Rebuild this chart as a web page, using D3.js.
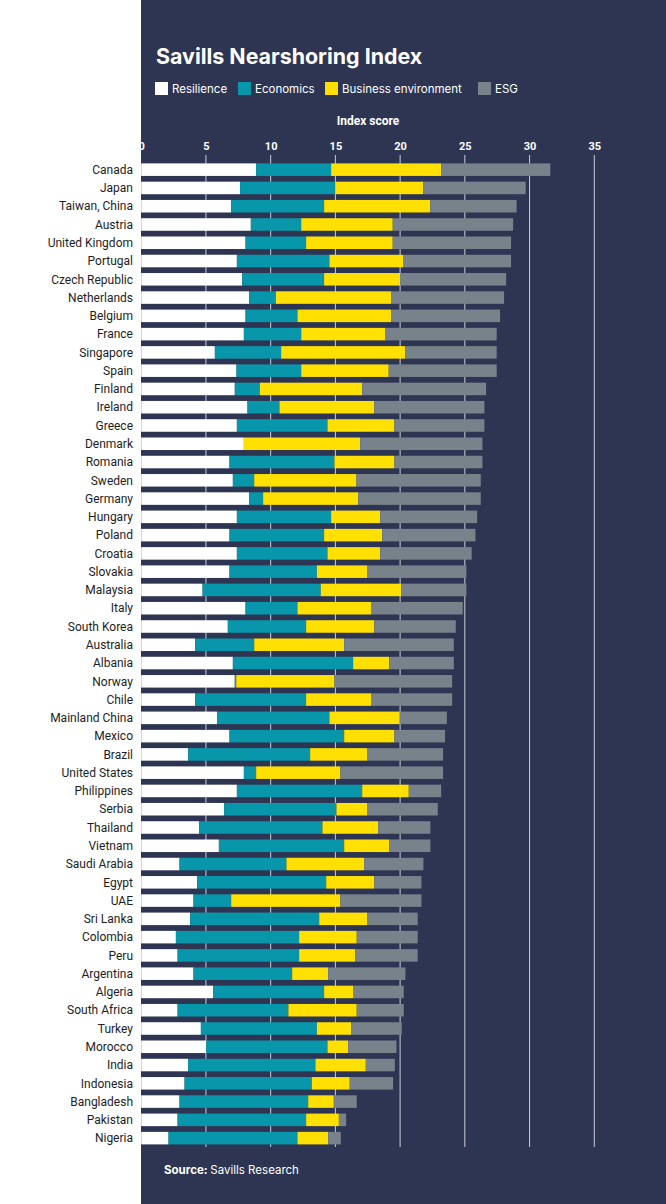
<!DOCTYPE html>
<html>
<head>
<meta charset="utf-8">
<script src="https://cdn.jsdelivr.net/npm/d3@7"></script>
<style>
  body { margin: 0; background: #ffffff; }
  svg { display: block; }
</style>
</head>
<body>
<div id="chart"></div>
<script>
const countries = ["Canada", "Japan", "Taiwan, China", "Austria", "United Kingdom", "Portugal",
  "Czech Republic", "Netherlands", "Belgium", "France", "Singapore", "Spain", "Finland", "Ireland",
  "Greece", "Denmark", "Romania", "Sweden", "Germany", "Hungary", "Poland", "Croatia", "Slovakia",
  "Malaysia", "Italy", "South Korea", "Australia", "Albania", "Norway", "Chile", "Mainland China",
  "Mexico", "Brazil", "United States", "Philippines", "Serbia", "Thailand", "Vietnam", "Saudi Arabia",
  "Egypt", "UAE", "Sri Lanka", "Colombia", "Peru", "Argentina", "Algeria", "South Africa", "Turkey",
  "Morocco", "India", "Indonesia", "Bangladesh", "Pakistan", "Nigeria"];

const resilience = [8.88, 7.64, 6.95, 8.47, 8.06, 7.39, 7.80, 8.34, 8.06, 7.93, 5.69, 7.36, 7.23, 8.21,
  7.39, 7.93, 6.82, 7.08, 8.34, 7.39, 6.82, 7.39, 6.82, 4.74, 8.06, 6.69, 4.17, 7.08, 7.23, 4.17, 5.87,
  6.82, 3.63, 7.93, 7.39, 6.41, 4.48, 6.00, 2.96, 4.32, 4.04, 3.78, 2.68, 2.81, 4.04, 5.56, 2.81, 4.61,
  5.02, 3.63, 3.35, 2.96, 2.81, 2.11];
const economics = [5.79, 7.36, 7.18, 3.89, 4.68, 7.15, 6.33, 2.06, 4.01, 4.43, 5.12, 5.00, 1.93, 2.47,
  7.00, 0, 8.11, 1.65, 1.08, 7.28, 7.31, 7.00, 6.75, 9.13, 4.01, 6.05, 4.56, 9.29, 0.11, 8.57, 8.67,
  8.86, 9.42, 0.95, 9.68, 8.67, 9.52, 9.68, 8.26, 9.97, 2.91, 9.97, 9.52, 9.39, 7.62, 8.57, 8.56, 8.96,
  9.37, 9.83, 9.83, 9.94, 9.93, 9.96];
const business = [8.50, 6.78, 8.19, 7.07, 6.69, 5.72, 5.87, 8.90, 7.23, 6.51, 9.58, 6.76, 7.91, 7.33,
  5.17, 8.98, 4.63, 7.90, 7.34, 3.79, 4.48, 4.07, 3.91, 6.23, 5.72, 5.27, 6.95, 2.78, 7.59, 5.05, 5.43,
  3.88, 4.43, 6.51, 3.60, 2.40, 4.30, 3.47, 6.00, 3.72, 8.44, 3.73, 4.45, 4.32, 2.78, 2.27, 5.28, 2.67,
  1.59, 3.89, 2.93, 1.98, 2.53, 2.37];
const esg = [8.43, 7.92, 6.68, 9.30, 9.14, 8.31, 8.19, 8.73, 8.42, 8.59, 7.07, 8.34, 9.57, 8.50, 6.95,
  9.45, 6.80, 9.60, 9.47, 7.49, 7.21, 7.07, 7.64, 5.02, 7.05, 6.29, 8.47, 5.00, 9.09, 6.23, 3.64, 3.91,
  5.84, 7.93, 2.50, 5.43, 4.04, 3.19, 4.58, 3.64, 6.26, 3.88, 4.71, 4.84, 5.97, 3.88, 3.63, 3.89, 3.74,
  2.24, 3.35, 1.77, 0.56, 0.98];

const seriesNames = ["Resilience", "Economics", "Business environment", "ESG"];
const seriesColors = ["#ffffff", "#0896aa", "#ffe000", "#77828b"];
const xTicks = [0, 5, 10, 15, 20, 25, 30, 35];

const rows = countries.map((c, i) => ({
  country: c,
  Resilience: resilience[i],
  Economics: economics[i],
  "Business environment": business[i],
  ESG: esg[i],
}));

const width = 666;
const height = 1204;
const panelX = 141;
const navy = "#2e3553";

const svg = d3.select("#chart").append("svg")
  .attr("width", width)
  .attr("height", height);

svg.append("rect")
  .attr("x", panelX).attr("y", 0)
  .attr("width", width - panelX).attr("height", height)
  .attr("fill", navy);

const x = d3.scaleLinear().domain([0, 35]).range([141.2, 594.3]);
const y = d3.scaleBand().domain(countries).range([163.4, 1144.4])
  .paddingInner(0.314).paddingOuter(0);

// title + legend
svg.append("text")
  .attr("x", 156).attr("y", 64)
  .attr("fill", "#ffffff")
  .style("font-family", "Inter, 'Open Sans', sans-serif")
  .style("font-weight", 700)
  .style("font-size", "21.4px")
  .text("Savills Nearshoring Index");

const legendX = [155, 238, 325, 478];
const legend = svg.append("g").selectAll("g")
  .data(seriesNames)
  .join("g")
  .attr("transform", (d, i) => `translate(${legendX[i]}, 82)`);
legend.append("rect")
  .attr("width", 13).attr("height", 13)
  .attr("fill", (d, i) => seriesColors[i]);
legend.append("text")
  .attr("x", 17).attr("y", 11)
  .attr("fill", "#ffffff")
  .style("font-family", "Inter, 'Open Sans', sans-serif")
  .style("font-size", "11.5px")
  .text((d) => d);

// axis
svg.append("text")
  .attr("x", 368).attr("y", 125)
  .attr("text-anchor", "middle")
  .attr("fill", "#ffffff")
  .style("font-family", "Roboto, sans-serif")
  .style("font-weight", 700)
  .style("font-size", "12px")
  .text("Index score");

const axis = svg.append("g")
  .attr("transform", "translate(0, 156)")
  .call(d3.axisTop(x).tickValues(xTicks).tickSize(0).tickPadding(6));
axis.select(".domain").remove();
axis.selectAll("text")
  .attr("fill", "#ffffff")
  .style("font-family", "Roboto, sans-serif")
  .style("font-weight", 700)
  .style("font-size", "11px");

svg.append("g").selectAll("line")
  .data(xTicks.slice(1))
  .join("line")
  .attr("x1", (d) => x(d)).attr("x2", (d) => x(d))
  .attr("y1", 155).attr("y2", 1147)
  .attr("stroke", "#c9cedb")
  .attr("stroke-width", 1);

// bars
const stacked = d3.stack().keys(seriesNames)(rows);

svg.append("g").selectAll("g")
  .data(stacked)
  .join("g")
  .attr("fill", (d, i) => seriesColors[i])
  .selectAll("rect")
  .data((d) => d)
  .join("rect")
  .attr("x", (d) => x(d[0]))
  .attr("y", (d) => y(d.data.country))
  .attr("width", (d) => x(d[1]) - x(d[0]))
  .attr("height", y.bandwidth());

// country labels
svg.append("g").selectAll("text")
  .data(countries)
  .join("text")
  .attr("x", 133)
  .attr("y", (d) => y(d) + y.bandwidth() / 2)
  .attr("dy", "0.35em")
  .attr("text-anchor", "end")
  .attr("fill", "#1d1d25")
  .style("font-family", "Roboto, sans-serif")
  .style("font-size", "12px")
  .text((d) => d);

// source
const src = svg.append("text")
  .attr("x", 164).attr("y", 1174)
  .attr("fill", "#ffffff")
  .style("font-family", "Inter, 'Open Sans', sans-serif")
  .style("font-size", "11.5px");
src.append("tspan").style("font-weight", 700).text("Source: ");
src.append("tspan").text("Savills Research");
</script>
</body>
</html>
